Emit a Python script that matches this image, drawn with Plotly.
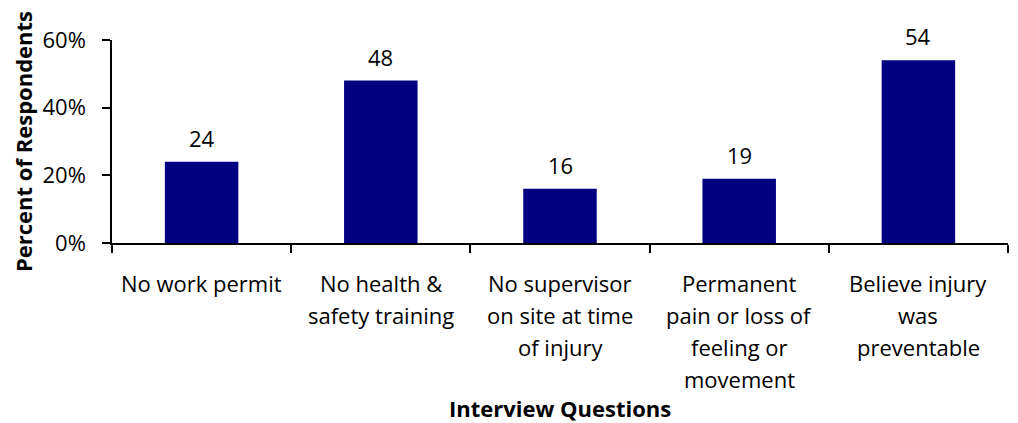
import plotly.graph_objects as go

categories = [
    "No work permit",
    "No health & safety training",
    "No supervisor on site at time of injury",
    "Permanent pain or loss of feeling or movement",
    "Believe injury was preventable",
]
label_lines = [
    ["No work permit"],
    ["No health &", "safety training"],
    ["No supervisor", "on site at time", "of injury"],
    ["Permanent", "pain or loss of", "feeling or", "movement"],
    ["Believe injury", "was", "preventable"],
]
values = [24, 48, 16, 19, 54]
y_ticks = [0, 0.2, 0.4, 0.6]

FONT = "Open Sans, Lato, sans-serif"
BAR = "#000080"
TXT = dict(family=FONT, size=22, color="black")

fracs = [v / 100 for v in values]

fig = go.Figure(
    go.Bar(
        x=categories,
        y=fracs,
        marker=dict(color=BAR, line=dict(width=0)),
        width=0.41,
        hoverinfo="x+y",
    )
)

# value labels above bars
for c, v, f in zip(categories, values, fracs):
    fig.add_annotation(
        x=c, y=f, text=str(v), showarrow=False,
        yanchor="middle", yshift=24, font=TXT,
    )

# category labels (one annotation per line for Excel-like line spacing)
for c, lines in zip(categories, label_lines):
    for i, ln in enumerate(lines):
        fig.add_annotation(
            x=c, xref="x", y=0, yref="paper", text=ln, showarrow=False,
            yanchor="middle", yshift=-(40 + 32 * i), font=TXT,
        )

# x axis title
fig.add_annotation(
    x=0.5, xref="paper", y=0, yref="paper", text="<b>Interview Questions</b>",
    showarrow=False, yanchor="middle", yshift=-165,
    font=dict(family=FONT, size=22, color="black"),
)

fig.update_layout(
    width=1010, height=415,
    margin=dict(l=104, r=10, t=32, b=180),
    paper_bgcolor="white", plot_bgcolor="white",
    showlegend=False,
    font=TXT,
)
fig.update_xaxes(
    type="category",
    showline=True, linecolor="black", linewidth=1.5,
    ticks="outside", ticklen=8, tickcolor="black", tickwidth=1.5,
    tickson="boundaries",
    showticklabels=False,
    showgrid=False, automargin=False,
)
fig.update_yaxes(
    range=[0, 0.6],
    tickvals=y_ticks, tickformat=".0%",
    showline=True, linecolor="black", linewidth=1.5,
    ticks="outside", ticklen=8, tickcolor="black", tickwidth=1.5,
    ticklabelstandoff=12,
    showgrid=False, zeroline=False, automargin=False,
    tickfont=TXT,
    title=dict(text="<b>Percent of Respondents</b>",
               font=dict(family=FONT, size=22, color="black"), standoff=15),
)

fig.write_html("out.html")
